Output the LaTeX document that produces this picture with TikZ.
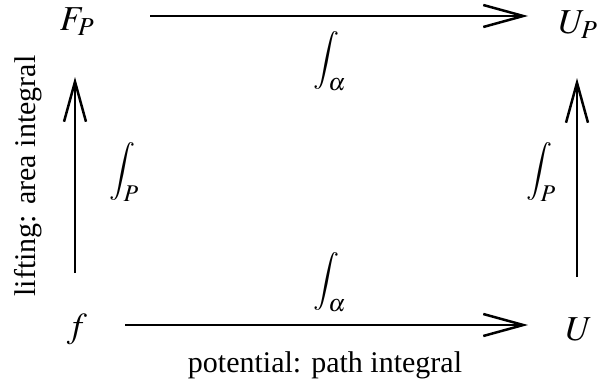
\documentclass[tikz,border=0pt]{standalone}
\usepackage{mathptmx}
\usepackage{fontspec}
\setmainfont{Liberation Serif}
\usetikzlibrary{arrows.meta}
\newcommand{\bigsub}[1]{\mbox{\fontsize{24}{28}\selectfont$#1$}}
\tikzset{
  big/.style={font=\fontsize{30}{36}\selectfont, inner sep=0pt},
  mth/.style={font=\fontsize{35}{42}\selectfont, inner sep=0pt},
  intl/.style={font=\fontsize{29}{35}\selectfont, inner sep=0pt},
  obj/.style={mth, anchor=base},
  arr/.style={line width=2.5pt, -{Straight Barb[length=40pt,width=22pt,line width=2.5pt]}},
}
\begin{document}
\begin{tikzpicture}[x=1pt,y=-1pt]
\useasboundingbox (0,0) rectangle (608,383);
\node[obj] (FP) at (77,30) {$F_P$};
\node[obj] (UP) at (578,33) {$U_P$};
\node[obj] (f) at (77,337) {$f$};
\node[obj] (U) at (579,340) {$U$};
\draw[arr] ([xshift=73pt,yshift=14pt]FP.base) -- ([xshift=-50pt,yshift=17pt]UP.base);
\draw[arr] ([xshift=48pt,yshift=12pt]f.base) -- ([xshift=-51pt,yshift=15pt]U.base);
\draw[arr] ([xshift=-2pt,yshift=64pt]f.base) -- ([xshift=-2pt,yshift=-47pt]FP.base);
\draw[arr] ([xshift=-2pt,yshift=63pt]U.base) -- ([xshift=-1pt,yshift=-45pt]UP.base);
\node[intl] (ltop) at (330,61) {$\displaystyle\int_{\bigsub{\alpha}}$};
\node[intl] (lbot) at (330,282) {$\displaystyle\int_{\bigsub{\alpha}}$};
\node[intl] (lleft) at (124,172) {$\displaystyle\int_{\bigsub{P}}$};
\node[intl] (lright) at (541,172) {$\displaystyle\int_{\bigsub{P}}$};
\node[big, rotate=90] (lift) at (28,176) {lifting: area integral};
\node[big, anchor=base] (pot) at (325,372) {potential: path integral};
\end{tikzpicture}
\end{document}
